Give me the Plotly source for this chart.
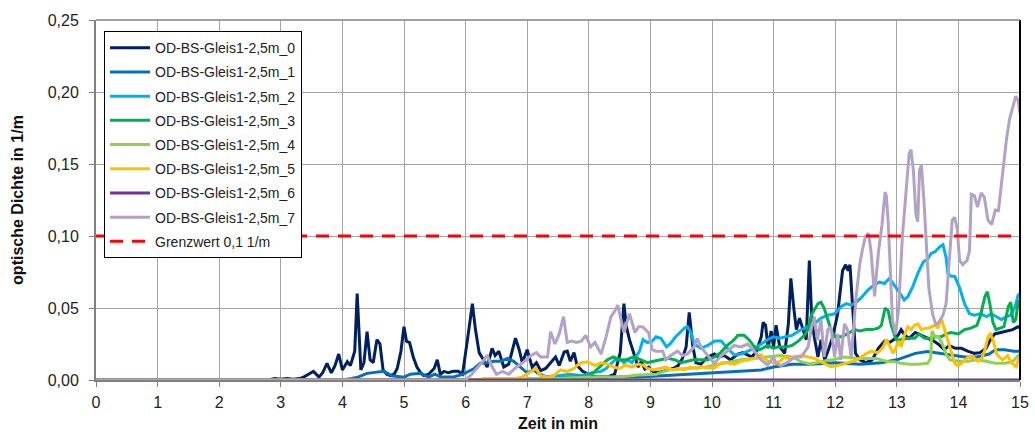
import plotly.graph_objects as go

# ---------------- data ----------------
names = ["OD-BS-Gleis1-2,5m_0", "OD-BS-Gleis1-2,5m_1", "OD-BS-Gleis1-2,5m_2",
         "OD-BS-Gleis1-2,5m_3", "OD-BS-Gleis1-2,5m_4", "OD-BS-Gleis1-2,5m_5",
         "OD-BS-Gleis1-2,5m_6", "OD-BS-Gleis1-2,5m_7"]
colors = ["#002060", "#0070c0", "#00b0f0", "#00b050", "#92d050", "#ffc000", "#7030a0", "#b3a2c7"]

t0 = [0, 2.8, 2.9, 3.0, 3.1, 3.2, 3.3, 3.37, 3.45, 3.53, 3.62, 3.68, 3.75, 3.82, 3.88, 3.94, 4.0, 4.08, 4.13,
      4.2, 4.24, 4.30, 4.35, 4.40, 4.45, 4.50, 4.56, 4.61, 4.66, 4.72, 4.78, 4.84, 4.89, 4.95, 5.0, 5.04, 5.09,
      5.15, 5.21, 5.27, 5.32, 5.40, 5.49, 5.54, 5.59, 5.65, 5.72, 5.8, 5.88, 5.95, 6.03, 6.11, 6.16, 6.22, 6.29,
      6.35, 6.43, 6.48, 6.54, 6.62, 6.70, 6.76, 6.81, 6.87, 6.92, 7.0, 7.08, 7.15, 7.22, 7.30, 7.38, 7.46, 7.52,
      7.60, 7.65, 7.70, 7.76, 7.81, 7.90, 8.03, 8.15, 8.30, 8.42, 8.51, 8.57, 8.61, 8.66, 8.70, 8.75, 8.80, 8.85,
      8.91, 8.97, 9.04, 9.12, 9.20, 9.30, 9.37, 9.45, 9.52, 9.58, 9.63, 9.69, 9.74, 9.82, 9.93, 10.04, 10.1,
      10.2, 10.3, 10.42, 10.5, 10.6, 10.65, 10.72, 10.80, 10.83, 10.87, 10.91, 10.96, 11.0, 11.04, 11.1, 11.18,
      11.24, 11.28, 11.33, 11.37, 11.42, 11.48, 11.53, 11.58, 11.62, 11.66, 11.72, 11.77, 11.83, 11.89, 11.96,
      12.04, 12.12, 12.17, 12.21, 12.24, 12.29, 12.33, 12.40, 12.50, 12.60, 12.70, 12.80, 12.88, 12.95, 13.02,
      13.07, 13.13, 13.2, 13.3, 13.4, 13.5, 13.6, 13.67, 13.77, 13.85, 13.95, 14.05, 14.15, 14.26, 14.35, 14.45,
      14.52, 14.59, 14.68, 14.78, 14.88, 14.97, 15.0]
od0 = [0, 0, 0.001, 0.0005, 0.001, 0.0005, 0.001, 0.002, 0.004, 0.006, 0.002, 0.005, 0.0116, 0.005, 0.01, 0.018,
       0.007, 0.0127, 0.01, 0.02, 0.060, 0.007, 0.012, 0.0336, 0.014, 0.012, 0.028, 0.025, 0.007, 0.004, 0.003,
       0.004, 0.008, 0.02, 0.037, 0.027, 0.026, 0.016, 0.009, 0.005, 0.003, 0.004, 0.008, 0.014, 0.004, 0.006,
       0.005, 0.006, 0.006, 0.004, 0.028, 0.053, 0.035, 0.019, 0.014, 0.009, 0.022, 0.017, 0.020, 0.009, 0.011,
       0.02, 0.029, 0.021, 0.012, 0.021, 0.009, 0.012, 0.0065, 0.008, 0.012, 0.016, 0.01, 0.0194, 0.020, 0.013,
       0.019, 0.01, 0.006, 0.003, 0.002, 0.002, 0.004, 0.019, 0.053, 0.037, 0.028, 0.022, 0.016, 0.009, 0.0127,
       0.0075, 0.009, 0.006, 0.005, 0.006, 0.007, 0.008, 0.01, 0.015, 0.023, 0.047, 0.023, 0.012, 0.011, 0.016,
       0.018, 0.016, 0.017, 0.014, 0.018, 0.019, 0.017, 0.016, 0.02, 0.030, 0.040, 0.038, 0.022, 0.034, 0.023,
       0.038, 0.023, 0.0185, 0.039, 0.0706, 0.049, 0.035, 0.043, 0.035, 0.028, 0.083, 0.042, 0.030, 0.016, 0.028,
       0.014, 0.021, 0.030, 0.046, 0.076, 0.080, 0.076, 0.080, 0.046, 0.0185, 0.014, 0.012, 0.014, 0.022, 0.027,
       0.026, 0.028, 0.031, 0.035, 0.031, 0.029, 0.033, 0.031, 0.029, 0.027, 0.025, 0.021, 0.024, 0.022, 0.022,
       0.02, 0.0185, 0.019, 0.022, 0.028, 0.032, 0.033, 0.034, 0.035, 0.037, 0.036]

t1 = [0, 4.0, 4.15, 4.25, 4.4, 4.5, 4.67, 4.8, 5.0, 5.1, 5.27, 5.4, 5.5, 5.6, 5.8, 5.95, 6.05, 6.14, 6.24, 6.35,
      6.46, 6.57, 6.68, 6.78, 6.89, 7.0, 7.1, 7.2, 7.33, 7.6, 8.0, 8.4, 8.8, 9.2, 9.6, 10.0, 10.4, 10.8, 11.0,
      11.3, 11.6, 12.0, 12.4, 12.75, 13.0, 13.15, 13.3, 13.5, 13.6, 13.75, 13.9, 14.1, 14.3, 14.5, 14.6, 14.75,
      14.9, 15.0]
od1 = [0, 0, 0.001, 0.002, 0.0046, 0.005, 0.006, 0.003, 0.002, 0.004, 0.0046, 0.002, 0.004, 0.002, 0.002, 0.004,
       0.006, 0.008, 0.0116, 0.012, 0.013, 0.013, 0.015, 0.013, 0.009, 0.005, 0.007, 0.004, 0.002, 0.0015, 0.002,
       0.002, 0.002, 0.003, 0.004, 0.005, 0.006, 0.007, 0.009, 0.011, 0.011, 0.012, 0.011, 0.012, 0.014, 0.016,
       0.0185, 0.0197, 0.019, 0.018, 0.017, 0.016, 0.016, 0.018, 0.021, 0.021, 0.020, 0.020]

t2 = [0, 7.0, 7.2, 7.33, 7.5, 7.7, 7.9, 8.05, 8.2, 8.28, 8.38, 8.45, 8.52, 8.57, 8.63, 8.7, 8.76, 8.82, 8.88,
      8.95, 9.03, 9.09, 9.17, 9.26, 9.32, 9.41, 9.48, 9.55, 9.60, 9.66, 9.71, 9.82, 9.93, 10.04, 10.15, 10.25,
      10.36, 10.47, 10.58, 10.69, 10.8, 10.9, 11.0, 11.1, 11.2, 11.3, 11.45, 11.55, 11.66, 11.77, 11.88, 11.99,
      12.1, 12.18, 12.26, 12.34, 12.42, 12.53, 12.63, 12.72, 12.8, 12.88, 12.96, 13.04, 13.12, 13.18, 13.26,
      13.35, 13.43, 13.5, 13.56, 13.62, 13.7, 13.75, 13.8, 13.83, 13.88, 13.94, 14.02, 14.1, 14.18, 14.26, 14.35,
      14.46, 14.53, 14.61, 14.7, 14.78, 14.85, 14.92, 14.97, 15.0]
od2 = [0, 0, 0.001, 0.0024, 0.003, 0.004, 0.003, 0.005, 0.006, 0.008, 0.012, 0.015, 0.014, 0.012, 0.014, 0.012,
       0.016, 0.0197, 0.028, 0.026, 0.027, 0.030, 0.029, 0.023, 0.025, 0.030, 0.033, 0.036, 0.037, 0.033, 0.025,
       0.022, 0.024, 0.027, 0.027, 0.022, 0.0174, 0.018, 0.020, 0.022, 0.025, 0.028, 0.030, 0.029, 0.030, 0.031,
       0.035, 0.037, 0.039, 0.043, 0.045, 0.046, 0.051, 0.053, 0.052, 0.054, 0.057, 0.0625, 0.066, 0.068, 0.067,
       0.0706, 0.066, 0.061, 0.0556, 0.058, 0.065, 0.075, 0.082, 0.084, 0.088, 0.089, 0.0926, 0.094, 0.085, 0.074,
       0.072, 0.072, 0.064, 0.053, 0.046, 0.045, 0.046, 0.044, 0.046, 0.044, 0.042, 0.044, 0.045, 0.051, 0.059,
       0.060]

t3 = [0, 7.3, 7.5, 7.8, 8.0, 8.1, 8.2, 8.3, 8.4, 8.5, 8.6, 8.73, 8.85, 8.95, 9.05, 9.15, 9.28, 9.4, 9.5, 9.6,
      9.7, 9.82, 9.93, 10.04, 10.14, 10.25, 10.36, 10.42, 10.52, 10.6, 10.69, 10.77, 10.85, 10.91, 11.0, 11.07,
      11.12, 11.2, 11.3, 11.4, 11.5, 11.56, 11.61, 11.66, 11.72, 11.77, 11.82, 11.88, 11.93, 11.99, 12.1, 12.2,
      12.31, 12.4, 12.5, 12.6, 12.7, 12.75, 12.81, 12.86, 12.91, 12.99, 13.07, 13.18, 13.29, 13.36, 13.45, 13.55,
      13.64, 13.72, 13.8, 13.88, 14.0, 14.1, 14.2, 14.3, 14.36, 14.43, 14.47, 14.51, 14.56, 14.61, 14.68, 14.74,
      14.81, 14.85, 14.89, 14.93, 14.97, 15.0]
od3 = [0, 0, 0.001, 0.002, 0.003, 0.006, 0.01, 0.014, 0.016, 0.014, 0.014, 0.016, 0.014, 0.012, 0.013, 0.014,
       0.015, 0.014, 0.012, 0.013, 0.014, 0.014, 0.014, 0.016, 0.019, 0.024, 0.028, 0.031, 0.031, 0.028, 0.023,
       0.021, 0.023, 0.024, 0.022, 0.023, 0.023, 0.023, 0.024, 0.027, 0.031, 0.035, 0.045, 0.049, 0.053, 0.054,
       0.050, 0.042, 0.035, 0.030, 0.030, 0.032, 0.035, 0.034, 0.035, 0.035, 0.036, 0.038, 0.050, 0.048, 0.038,
       0.028, 0.028, 0.029, 0.029, 0.032, 0.029, 0.029, 0.030, 0.030, 0.032, 0.033, 0.032, 0.035, 0.036, 0.038,
       0.045, 0.058, 0.0613, 0.053, 0.04, 0.035, 0.036, 0.037, 0.051, 0.054, 0.040, 0.042, 0.054, 0.055]

t4 = [0, 6.9, 7.0, 7.5, 8.0, 8.5, 8.8, 9.1, 9.28, 9.6, 9.9, 10.04, 10.25, 10.47, 10.69, 10.9, 11.1, 11.3, 11.45,
      11.6, 11.75, 11.94, 12.15, 12.36, 12.5, 12.66, 12.86, 12.96, 13.07, 13.2, 13.35, 13.5, 13.55, 13.57, 13.62,
      13.68, 13.74, 13.8, 13.86, 14.0, 14.16, 14.3, 14.45, 14.6, 14.75, 14.88, 14.97, 15.0]
od4 = [0, 0, 0.001, 0.001, 0.002, 0.002, 0.0035, 0.004, 0.007, 0.008, 0.009, 0.0104, 0.012, 0.014, 0.015, 0.016,
       0.017, 0.016, 0.0127, 0.011, 0.0127, 0.014, 0.016, 0.015, 0.015, 0.015, 0.0127, 0.0127, 0.0116, 0.011,
       0.011, 0.0116, 0.015, 0.034, 0.030, 0.030, 0.025, 0.018, 0.014, 0.013, 0.013, 0.014, 0.013, 0.0116, 0.0116,
       0.0127, 0.017, 0.018]

t5 = [0, 6.2, 6.3, 6.5, 6.8, 6.92, 7.06, 7.14, 7.22, 7.33, 7.43, 7.54, 7.65, 7.76, 7.82, 7.88, 7.98, 8.1, 8.2,
      8.3, 8.4, 8.5, 8.6, 8.7, 8.8, 8.9, 8.95, 9.05, 9.15, 9.25, 9.35, 9.45, 9.55, 9.65, 9.75, 9.85, 9.95, 10.04,
      10.15, 10.25, 10.36, 10.47, 10.58, 10.69, 10.8, 10.85, 10.91, 11.0, 11.05, 11.1, 11.18, 11.24, 11.34, 11.45,
      11.56, 11.66, 11.8, 11.93, 12.04, 12.15, 12.26, 12.36, 12.47, 12.58, 12.69, 12.77, 12.83, 12.88, 12.94,
      12.98, 13.03, 13.07, 13.13, 13.18, 13.23, 13.29, 13.34, 13.4, 13.47, 13.52, 13.56, 13.63, 13.67, 13.72,
      13.77, 13.83, 13.88, 13.94, 13.99, 14.05, 14.16, 14.24, 14.32, 14.38, 14.43, 14.48, 14.52, 14.57, 14.62,
      14.66, 14.72, 14.8, 14.86, 14.94, 14.97, 15.0]
od5 = [0, 0, 0.001, 0.001, 0.001, 0.002, 0.006, 0.008, 0.003, 0.002, 0.003, 0.007, 0.006, 0.008, 0.0104, 0.012,
       0.0127, 0.01, 0.012, 0.011, 0.009, 0.008, 0.0104, 0.009, 0.011, 0.01, 0.008, 0.007, 0.008, 0.009, 0.007,
       0.008, 0.007, 0.009, 0.008, 0.009, 0.0084, 0.0084, 0.012, 0.012, 0.011, 0.013, 0.014, 0.015, 0.0174, 0.015,
       0.013, 0.0116, 0.0116, 0.013, 0.016, 0.015, 0.016, 0.017, 0.016, 0.015, 0.012, 0.0093, 0.010, 0.0116,
       0.0127, 0.014, 0.0174, 0.020, 0.019, 0.022, 0.028, 0.024, 0.0185, 0.022, 0.027, 0.023, 0.032, 0.037, 0.035,
       0.038, 0.039, 0.035, 0.036, 0.036, 0.037, 0.038, 0.036, 0.043, 0.036, 0.028, 0.020, 0.0116, 0.010, 0.0116,
       0.016, 0.016, 0.013, 0.015, 0.021, 0.030, 0.032, 0.027, 0.018, 0.016, 0.014, 0.017, 0.012, 0.0093, 0.014,
       0.016]

t6 = [0, 3.0, 6.0, 9.0, 12.0, 15.0]
od6 = [0, 0, 0, 0, 0, 0]

t7 = [0, 6.0, 6.1, 6.2, 6.3, 6.35, 6.42, 6.5, 6.6, 6.7, 6.8, 6.95, 7.06, 7.15, 7.22, 7.33, 7.38, 7.45, 7.52, 7.59,
      7.65, 7.72, 7.80, 7.88, 7.95, 8.03, 8.1, 8.2, 8.28, 8.36, 8.41, 8.47, 8.52, 8.57, 8.66, 8.75, 8.81, 8.87,
      8.97, 9.03, 9.09, 9.2, 9.25, 9.33, 9.44, 9.52, 9.6, 9.71, 9.76, 9.82, 9.93, 10.04, 10.15, 10.25, 10.36,
      10.47, 10.58, 10.69, 10.8, 10.9, 11.0, 11.04, 11.12, 11.24, 11.34, 11.45, 11.56, 11.61, 11.66, 11.71, 11.77,
      11.82, 11.88, 11.93, 11.99, 12.04, 12.09, 12.15, 12.2, 12.26, 12.34, 12.40, 12.44, 12.49, 12.54, 12.58,
      12.61, 12.64, 12.67, 12.70, 12.76, 12.81, 12.83, 12.86, 12.9, 12.93, 12.98, 13.03, 13.09, 13.15, 13.2,
      13.23, 13.27, 13.31, 13.34, 13.37, 13.40, 13.44, 13.48, 13.52, 13.58, 13.63, 13.68, 13.75, 13.8, 13.85,
      13.9, 13.94, 13.98, 14.02, 14.07, 14.14, 14.18, 14.21, 14.26, 14.31, 14.37, 14.42, 14.48, 14.54, 14.6,
      14.65, 14.72, 14.78, 14.83, 14.88, 14.93, 14.97, 15.0]
od7 = [0, 0, 0.004, 0.009, 0.014, 0.0174, 0.01, 0.004, 0.006, 0.004, 0.008, 0.0127, 0.017, 0.019, 0.016, 0.016,
       0.0336, 0.025, 0.032, 0.044, 0.026, 0.027, 0.026, 0.027, 0.031, 0.023, 0.026, 0.018, 0.030, 0.044, 0.047,
       0.052, 0.042, 0.033, 0.046, 0.033, 0.037, 0.037, 0.033, 0.021, 0.020, 0.020, 0.014, 0.017, 0.020, 0.017,
       0.018, 0.023, 0.029, 0.023, 0.017, 0.0116, 0.017, 0.020, 0.024, 0.023, 0.025, 0.020, 0.014, 0.0104, 0.016,
       0.0116, 0.010, 0.0127, 0.016, 0.016, 0.023, 0.035, 0.044, 0.028, 0.042, 0.016, 0.035, 0.037, 0.016, 0.032,
       0.014, 0.039, 0.035, 0.016, 0.058, 0.081, 0.090, 0.0995, 0.102, 0.090, 0.074, 0.058, 0.074, 0.088, 0.108,
       0.1305, 0.128, 0.11, 0.071, 0.041, 0.0317, 0.05, 0.099, 0.13, 0.157, 0.160, 0.145, 0.115, 0.11, 0.146,
       0.149, 0.125, 0.092, 0.064, 0.046, 0.0386, 0.040, 0.045, 0.053, 0.083, 0.111, 0.113, 0.105, 0.083, 0.080,
       0.083, 0.0898, 0.129, 0.128, 0.12, 0.130, 0.127, 0.111, 0.108, 0.118, 0.1176, 0.1456, 0.167, 0.181, 0.189,
       0.197, 0.194, 0.185]

grenz_name = "Grenzwert 0,1 1/m"
grenz_t = [0, 15]
grenz_v = [0.1, 0.1]

series_t = [t0, t1, t2, t3, t4, t5, t6, t7]
series_v = [od0, od1, od2, od3, od4, od5, od6, od7]

x_ticks = list(range(0, 16))
y_ticks = [0.0, 0.05, 0.10, 0.15, 0.20, 0.25]

# ---------------- figure ----------------
fig = go.Figure()
for i, (tt, vv) in enumerate(zip(series_t, series_v)):
    fig.add_trace(go.Scatter(x=tt, y=vv, mode="lines", name=names[i], legendgroup=f"g{i}",
                             line=dict(color=colors[i], width=3)))
fig.add_trace(go.Scatter(x=grenz_t, y=grenz_v, mode="lines", name=grenz_name, legendgroup="g8",
                         line=dict(color="#ff0000", width=3, dash="13px,9px")))

axis_common = dict(showgrid=True, gridcolor="#a6a6a6", gridwidth=1, ticks="outside", ticklen=5,
                   tickcolor="#808080", showline=True, linecolor="#808080", linewidth=2, zeroline=False,
                   automargin=False, tickfont=dict(size=16, color="#222222"))

fig.update_layout(
    width=1035, height=432,
    margin=dict(l=96, r=15, t=20, b=52),
    paper_bgcolor="white", plot_bgcolor="white",
    separators=",.",
    font=dict(family="Arial, 'Liberation Sans', sans-serif", size=16, color="#222222"),
    xaxis=dict(range=[0, 15], tickvals=x_ticks, ticklabelstandoff=2,
               title=dict(text="<b>Zeit in min</b>", standoff=8, font=dict(size=16, color="#111111")),
               **axis_common),
    yaxis=dict(range=[0, 0.25], tickvals=y_ticks, tickformat=".2f", ticklabelstandoff=7,
               title=dict(text="<b>optische Dichte in 1/m</b>", standoff=20, font=dict(size=16, color="#111111")),
               **axis_common),
    legend=dict(x=0.0087, y=0.969, xanchor="left", yanchor="top", bordercolor="black", borderwidth=1,
                bgcolor="white", font=dict(size=14, color="#222222"), tracegroupgap=3, itemwidth=40),
    shapes=[dict(type="line", xref="paper", yref="paper", x0=1, x1=1, y0=0, y1=1,
                 line=dict(color="black", width=2)),
            dict(type="line", xref="paper", yref="paper", x0=0, x1=1, y0=1, y1=1,
                 line=dict(color="#808080", width=1.5))],
)

fig.write_html("out.html")
